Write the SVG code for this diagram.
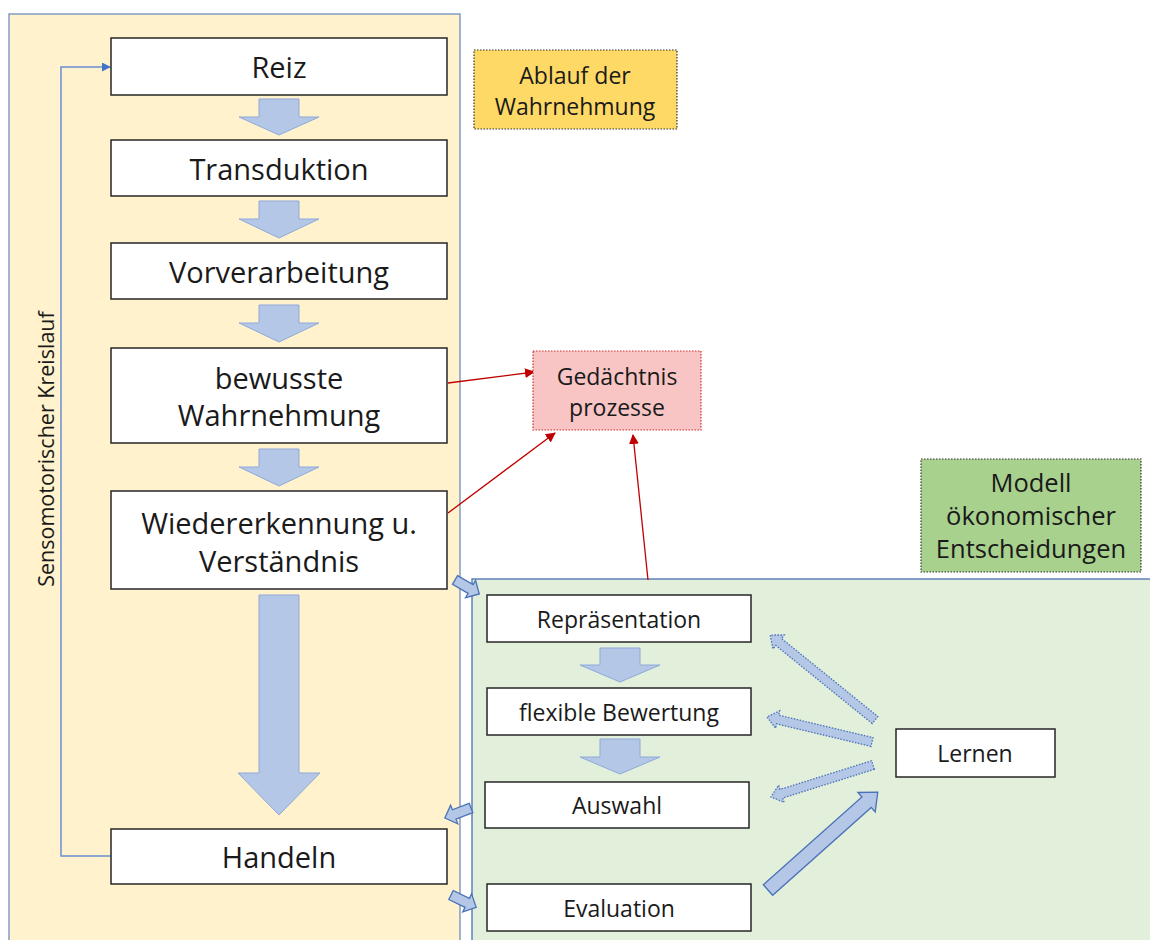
<svg xmlns="http://www.w3.org/2000/svg" width="1150" height="940" viewBox="0 0 1150 940">
<style>
.box{fill:#fff;stroke:#262626;stroke-width:1.5}
.t{font-family:"Open Sans","Liberation Sans",sans-serif;fill:#1a1a1a;text-anchor:middle;dominant-baseline:central}
.big{font-size:29px}
.mid{font-size:23px}
.sm{font-size:23px}
.ba{fill:#b4c7e7;stroke:#8eaadb;stroke-width:1}
.bs{fill:#b4c7e7;stroke:#4a72b8;stroke-width:1.3}
.bd{fill:#b4c7e7;stroke:#4a72b8;stroke-width:1.3;stroke-dasharray:1.5 1.5}
.red{stroke:#c00000;stroke-width:1.3;fill:none}
</style>
<defs>
<marker id="mr" viewBox="0 0 10 10" refX="9" refY="5" markerWidth="10" markerHeight="10" markerUnits="userSpaceOnUse" orient="auto"><path d="M0,0 L10,5 L0,10 Z" fill="#c00000"/></marker>
<marker id="mb" viewBox="0 0 10 10" refX="9" refY="5" markerWidth="9" markerHeight="9" markerUnits="userSpaceOnUse" orient="auto"><path d="M0,0 L10,5 L0,10 Z" fill="#4472c4"/></marker>
</defs>
<rect width="1150" height="940" fill="#fff"/>
<g id="panel-wahrnehmung">
<rect x="9" y="14" width="451" height="940" fill="#fff2cc" stroke="#6c8ebf" stroke-width="1.3"/>
<text class="t" font-size="21.5" transform="translate(45,449) rotate(-90)">Sensomotorischer Kreislauf</text>
</g>
<g id="panel-modell">
<rect x="472" y="579" width="690" height="370" fill="#e2efda" stroke="#4a6fb3" stroke-width="1.3"/>
</g>
<g id="connectors">
<path d="M111,856 H61 V67 H110" fill="none" stroke="#6a8fd4" stroke-width="1.5" marker-end="url(#mb)"/>
<polygon class="ba" points="259,99 299,99 299,117 319,117 279,135 239,117 259,117"/>
<polygon class="ba" points="259,201 299,201 299,219 319,219 279,238 239,219 259,219"/>
<polygon class="ba" points="259,305 299,305 299,323 319,323 279,342 239,323 259,323"/>
<polygon class="ba" points="259,449 299,449 299,467 319,467 279,486 239,467 259,467"/>
<polygon class="ba" points="259,595 299,595 299,773 320,773 279,815 238,773 259,773"/>
<polygon class="ba" points="600,648 640,648 640,665 660,665 620,682 580,665 600,665"/>
<polygon class="ba" points="600,739 640,739 640,757 660,757 620,774 580,757 600,757"/>
<polygon class="bs" transform="translate(455,580) rotate(30)" points="0,-5 18,-5 18,-10 28,0 18,10 18,5 0,5"/>
<polygon class="bs" transform="translate(471,808) rotate(159)" points="0,-5 18,-5 18,-10 28,0 18,10 18,5 0,5"/>
<polygon class="bs" transform="translate(451,895) rotate(26)" points="0,-5 18,-5 18,-10 28,0 18,10 18,5 0,5"/>
<polygon class="bd" transform="translate(875,720) rotate(219)" points="0,-4.5 124,-4.5 124,-9 135,0 124,9 124,4.5 0,4.5"/>
<polygon class="bd" transform="translate(872,742) rotate(193.4)" points="0,-4.5 97,-4.5 97,-9 108,0 97,9 97,4.5 0,4.5"/>
<polygon class="bd" transform="translate(873,765) rotate(162.6)" points="0,-4.5 96,-4.5 96,-9 107,0 96,9 96,4.5 0,4.5"/>
<polygon class="bs" transform="translate(768,890) rotate(-41.7)" points="0,-7 132,-7 132,-13 147,0 132,13 132,7 0,7"/>
<line class="red" x1="448" y1="383" x2="534" y2="372" marker-end="url(#mr)"/>
<line class="red" x1="448" y1="513" x2="555" y2="433" marker-end="url(#mr)"/>
<line class="red" x1="648" y1="580" x2="633" y2="435" marker-end="url(#mr)"/>
</g>
<g id="reiz"><rect class="box" x="111" y="38" width="336" height="57"/><text class="t big" x="279" y="66">Reiz</text></g>
<g id="transduktion"><rect class="box" x="111" y="140" width="336" height="56"/><text class="t big" x="279" y="168">Transduktion</text></g>
<g id="vorverarbeitung"><rect class="box" x="111" y="243" width="336" height="56"/><text class="t big" x="279" y="271">Vorverarbeitung</text></g>
<g id="bewusste"><rect class="box" x="111" y="348" width="336" height="95"/><text class="t big" x="279" y="377">bewusste</text><text class="t big" x="279" y="414">Wahrnehmung</text></g>
<g id="wiedererkennung"><rect class="box" x="111" y="491" width="336" height="98"/><text class="t big" x="279" y="522">Wiedererkennung u.</text><text class="t big" x="279" y="560">Verständnis</text></g>
<g id="handeln"><rect class="box" x="111" y="829" width="336" height="55"/><text class="t big" x="279" y="856">Handeln</text></g>
<g id="ablauf"><rect x="474" y="50" width="203" height="79" fill="#ffd966" stroke="#333" stroke-width="1.2" stroke-dasharray="1.5 1.5"/><text class="t mid" x="575" y="75">Ablauf der</text><text class="t mid" x="575" y="106">Wahrnehmung</text></g>
<g id="gedaechtnis"><rect x="533" y="351" width="168" height="79" fill="#f8c4c4" stroke="#d03030" stroke-width="1.2" stroke-dasharray="1.5 1.5"/><text class="t mid" x="617" y="376">Gedächtnis</text><text class="t mid" x="617" y="407">prozesse</text></g>
<g id="modell"><rect x="921" y="459" width="220" height="113" fill="#a9d18e" stroke="#333" stroke-width="1.2" stroke-dasharray="1.5 1.5"/><text class="t" font-size="25.5" x="1031" y="482">Modell</text><text class="t" font-size="25.5" x="1031" y="515">ökonomischer</text><text class="t" font-size="25.5" x="1031" y="548">Entscheidungen</text></g>
<g id="repraesentation"><rect class="box" x="487" y="595" width="264" height="47"/><text class="t sm" x="619" y="619">Repräsentation</text></g>
<g id="bewertung"><rect class="box" x="487" y="688" width="264" height="47"/><text class="t sm" x="619" y="712">flexible Bewertung</text></g>
<g id="auswahl"><rect class="box" x="485" y="782" width="264" height="46"/><text class="t sm" x="617" y="805">Auswahl</text></g>
<g id="evaluation"><rect class="box" x="487" y="884" width="264" height="47"/><text class="t sm" x="619" y="908">Evaluation</text></g>
<g id="lernen"><rect class="box" x="896" y="729" width="159" height="48"/><text class="t sm" x="975" y="753">Lernen</text></g>
</svg>
